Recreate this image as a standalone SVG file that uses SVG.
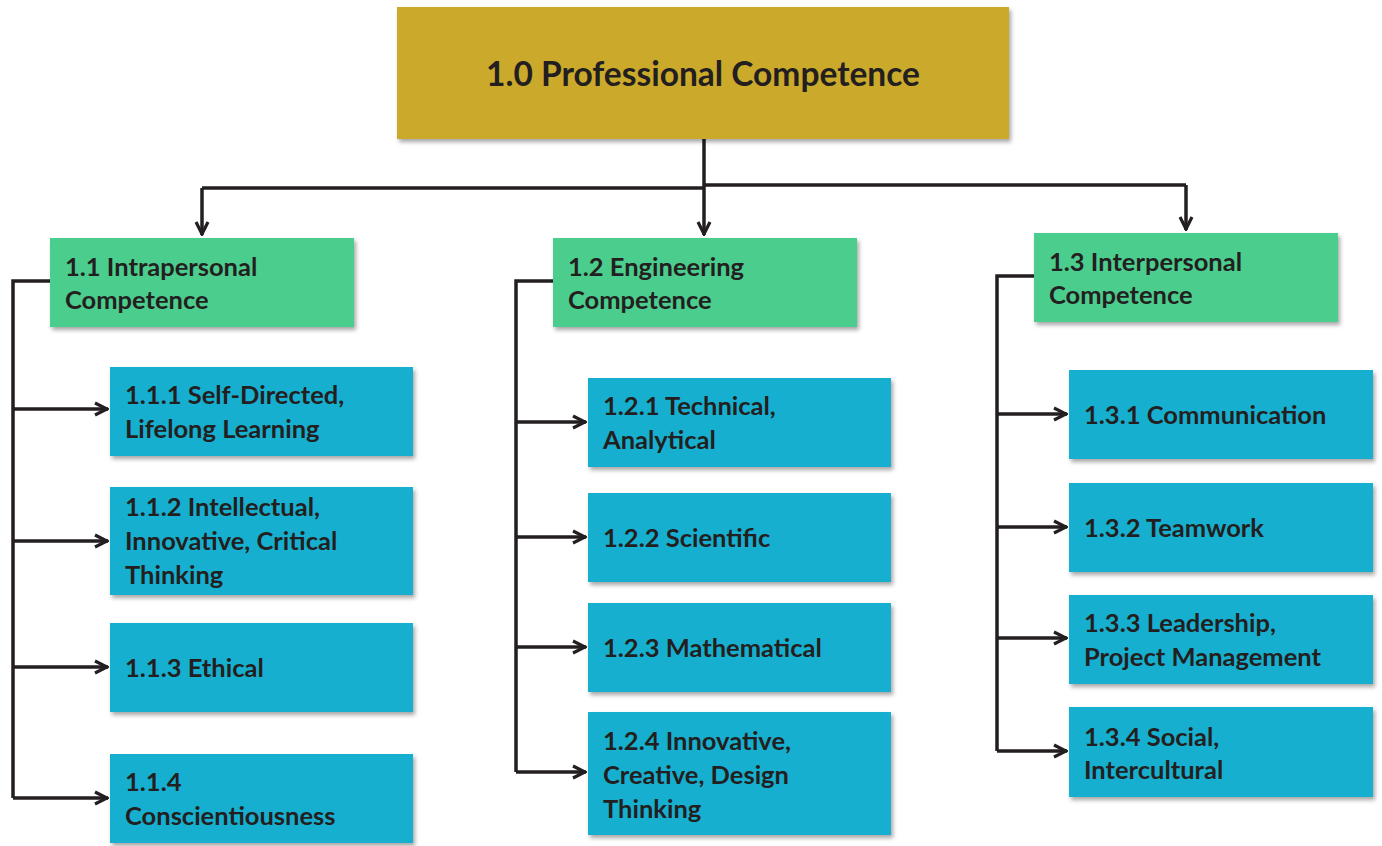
<svg xmlns="http://www.w3.org/2000/svg" width="1382" height="846" viewBox="0 0 1382 846">
<style>
.t{font-family:Lato,"Open Sans","Liberation Sans",sans-serif;font-weight:bold;fill:#231F20;font-size:25.5px}
.top{font-size:33.5px}
.g{fill:#4BCD8E}
.b{fill:#16AFCF}
.c{fill:none;stroke:#231F20;stroke-width:3.5}
</style>
<defs>
<filter id="sh" x="-5%" y="-5%" width="115%" height="120%">
<feDropShadow dx="2" dy="3" stdDeviation="2" flood-color="#000" flood-opacity="0.35"/>
</filter>
<marker id="ar" viewBox="0 0 16 16" refX="15" refY="8" markerWidth="16" markerHeight="16" markerUnits="userSpaceOnUse" orient="auto">
<path d="M2,2 L14,8 L2,14" fill="none" stroke="#231F20" stroke-width="3.2"/>
</marker>
</defs>
<rect width="1382" height="846" fill="#fff"/>
<g id="connectors">
<path class="c" d="M704,139 V186"/>
<path class="c" d="M202,188 H704 M704,185 H1186"/>
<path class="c" d="M202,188 V235" marker-end="url(#ar)"/>
<path class="c" d="M704,186 V235" marker-end="url(#ar)"/>
<path class="c" d="M1186,185 V230" marker-end="url(#ar)"/>
<path class="c" d="M50,281 H13 V798"/>
<path class="c" d="M13,409 H108" marker-end="url(#ar)"/>
<path class="c" d="M13,541 H108" marker-end="url(#ar)"/>
<path class="c" d="M13,667 H108" marker-end="url(#ar)"/>
<path class="c" d="M13,798 H108" marker-end="url(#ar)"/>
<path class="c" d="M553,281 H516 V772"/>
<path class="c" d="M516,422 H586" marker-end="url(#ar)"/>
<path class="c" d="M516,537 H586" marker-end="url(#ar)"/>
<path class="c" d="M516,647 H586" marker-end="url(#ar)"/>
<path class="c" d="M516,772 H586" marker-end="url(#ar)"/>
<path class="c" d="M1034,276 H997 V751"/>
<path class="c" d="M997,414 H1067" marker-end="url(#ar)"/>
<path class="c" d="M997,527 H1067" marker-end="url(#ar)"/>
<path class="c" d="M997,638 H1067" marker-end="url(#ar)"/>
<path class="c" d="M997,751 H1067" marker-end="url(#ar)"/>
</g>
<g id="n10"><rect x="397" y="7" width="612" height="132" fill="#CBA92A" filter="url(#sh)"/><text class="t top" x="703" y="86" text-anchor="middle">1.0 Professional Competence</text></g>
<g id="n11"><rect class="g" x="50" y="238" width="304" height="89" filter="url(#sh)"/><text class="t" x="65" y="276">1.1 Intrapersonal</text><text class="t" x="65" y="309">Competence</text></g>
<g id="n12"><rect class="g" x="553" y="238" width="304" height="89" filter="url(#sh)"/><text class="t" x="568" y="276">1.2 Engineering</text><text class="t" x="568" y="309">Competence</text></g>
<g id="n13"><rect class="g" x="1034" y="233" width="304" height="89" filter="url(#sh)"/><text class="t" x="1049" y="271">1.3 Interpersonal</text><text class="t" x="1049" y="304">Competence</text></g>
<g id="n111"><rect class="b" x="110" y="367" width="303" height="89" filter="url(#sh)"/><text class="t" x="125" y="404">1.1.1 Self-Directed,</text><text class="t" x="125" y="438">Lifelong Learning</text></g>
<g id="n112"><rect class="b" x="110" y="487" width="303" height="108" filter="url(#sh)"/><text class="t" x="125" y="516">1.1.2 Intellectual,</text><text class="t" x="125" y="550">Innovative, Critical</text><text class="t" x="125" y="584">Thinking</text></g>
<g id="n113"><rect class="b" x="110" y="623" width="303" height="89" filter="url(#sh)"/><text class="t" x="125" y="677">1.1.3 Ethical</text></g>
<g id="n114"><rect class="b" x="110" y="754" width="303" height="89" filter="url(#sh)"/><text class="t" x="125" y="791">1.1.4</text><text class="t" x="125" y="825">Conscientiousness</text></g>
<g id="n121"><rect class="b" x="588" y="378" width="303" height="89" filter="url(#sh)"/><text class="t" x="603" y="415">1.2.1 Technical,</text><text class="t" x="603" y="449">Analytical</text></g>
<g id="n122"><rect class="b" x="588" y="493" width="303" height="89" filter="url(#sh)"/><text class="t" x="603" y="547">1.2.2 Scientific</text></g>
<g id="n123"><rect class="b" x="588" y="603" width="303" height="89" filter="url(#sh)"/><text class="t" x="603" y="657">1.2.3 Mathematical</text></g>
<g id="n124"><rect class="b" x="588" y="712" width="303" height="123" filter="url(#sh)"/><text class="t" x="603" y="750">1.2.4 Innovative,</text><text class="t" x="603" y="784">Creative, Design</text><text class="t" x="603" y="818">Thinking</text></g>
<g id="n131"><rect class="b" x="1069" y="370" width="304" height="89" filter="url(#sh)"/><text class="t" x="1084" y="424">1.3.1 Communication</text></g>
<g id="n132"><rect class="b" x="1069" y="483" width="304" height="89" filter="url(#sh)"/><text class="t" x="1084" y="537">1.3.2 Teamwork</text></g>
<g id="n133"><rect class="b" x="1069" y="595" width="304" height="89" filter="url(#sh)"/><text class="t" x="1084" y="632">1.3.3 Leadership,</text><text class="t" x="1084" y="666">Project Management</text></g>
<g id="n134"><rect class="b" x="1069" y="707" width="304" height="90" filter="url(#sh)"/><text class="t" x="1084" y="746">1.3.4 Social,</text><text class="t" x="1084" y="779">Intercultural</text></g>
</svg>
